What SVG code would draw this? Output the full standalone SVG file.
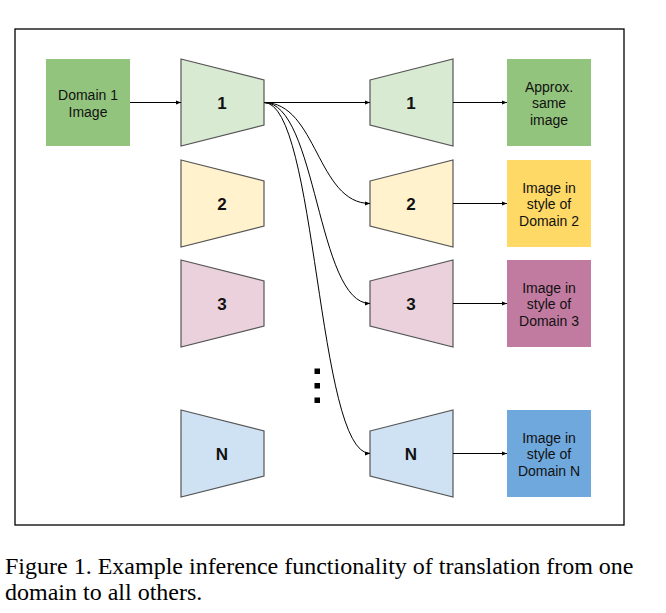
<svg xmlns="http://www.w3.org/2000/svg" width="666" height="613" viewBox="0 0 666 613">
<defs>
<style>
.box{stroke:none}
.trap{stroke:#555;stroke-width:1.2}
.lbl{font-family:"Liberation Sans",Arial,sans-serif;font-size:14px;fill:#111;text-anchor:middle}
.num{font-family:"Liberation Sans",Arial,sans-serif;font-size:17px;font-weight:bold;fill:#111;text-anchor:middle}
.cap{font-family:"Liberation Serif","Times New Roman",serif;font-size:24px;fill:#000}
.edge{fill:none;stroke:#000;stroke-width:1}
</style>
<marker id="ah" viewBox="0 0 10 10" refX="10" refY="5" markerWidth="5" markerHeight="5" orient="auto" markerUnits="userSpaceOnUse">
<path d="M0,1 L10,5 L0,9 z" fill="#000"/>
</marker>
</defs>
<rect width="666" height="613" fill="#fff"/>
<rect id="frame" x="15" y="29" width="609" height="496" fill="none" stroke="#000" stroke-width="1.3"/>

<g id="domain1">
<rect class="box" x="46" y="59" width="84" height="87" fill="#93c47d"/>
<text class="lbl" x="88" y="100">Domain 1</text>
<text class="lbl" x="88" y="117">Image</text>
</g>

<g id="enc1">
<polygon class="trap" points="181,59 264,80 264,125 181,146" fill="#d9ead3"/>
<text class="num" x="222" y="109">1</text>
</g>
<g id="enc2">
<polygon class="trap" points="181,160 264,181 264,226 181,247" fill="#fff2cc"/>
<text class="num" x="222" y="210">2</text>
</g>
<g id="enc3">
<polygon class="trap" points="181,260 264,281 264,326 181,347" fill="#ead1dc"/>
<text class="num" x="222" y="310">3</text>
</g>
<g id="encN">
<polygon class="trap" points="181,410 264,431 264,476 181,497" fill="#cfe2f3"/>
<text class="num" x="222" y="460">N</text>
</g>

<g id="dec1">
<polygon class="trap" points="370,80 453,59 453,146 370,125" fill="#d9ead3"/>
<text class="num" x="411" y="109">1</text>
</g>
<g id="dec2">
<polygon class="trap" points="370,181 453,160 453,247 370,226" fill="#fff2cc"/>
<text class="num" x="411" y="210">2</text>
</g>
<g id="dec3">
<polygon class="trap" points="370,281 453,260 453,347 370,326" fill="#ead1dc"/>
<text class="num" x="411" y="310">3</text>
</g>
<g id="decN">
<polygon class="trap" points="370,431 453,410 453,497 370,476" fill="#cfe2f3"/>
<text class="num" x="411" y="460">N</text>
</g>

<g id="out1">
<rect class="box" x="507" y="59" width="84" height="87" fill="#93c47d"/>
<text class="lbl" x="549" y="92">Approx.</text>
<text class="lbl" x="549" y="108">same</text>
<text class="lbl" x="549" y="125">image</text>
</g>
<g id="out2">
<rect class="box" x="507" y="160" width="84" height="87" fill="#ffd966"/>
<text class="lbl" x="549" y="193">Image in</text>
<text class="lbl" x="549" y="209">style of</text>
<text class="lbl" x="549" y="226">Domain 2</text>
</g>
<g id="out3">
<rect class="box" x="507" y="260" width="84" height="87" fill="#c27ba0"/>
<text class="lbl" x="549" y="293">Image in</text>
<text class="lbl" x="549" y="309">style of</text>
<text class="lbl" x="549" y="326">Domain 3</text>
</g>
<g id="outN">
<rect class="box" x="507" y="410" width="84" height="87" fill="#6fa8dc"/>
<text class="lbl" x="549" y="443">Image in</text>
<text class="lbl" x="549" y="459">style of</text>
<text class="lbl" x="549" y="476">Domain N</text>
</g>

<g id="dots" fill="#000">
<rect x="314.5" y="368.5" width="5.5" height="5.5"/>
<rect x="314.5" y="383" width="5.5" height="5.5"/>
<rect x="314.5" y="397.5" width="5.5" height="5.5"/>
</g>

<g id="connectors">
<path class="edge" d="M130,102.5 H181" marker-end="url(#ah)"/>
<path class="edge" d="M264,102.5 H370" marker-end="url(#ah)"/>
<path class="edge" d="M264,102.5 C317,102.5 317,203.5 370,203.5" marker-end="url(#ah)"/>
<path class="edge" d="M264,102.5 C317,102.5 317,303.5 370,303.5" marker-end="url(#ah)"/>
<path class="edge" d="M264,102.5 C317,102.5 317,453.5 370,453.5" marker-end="url(#ah)"/>
<path class="edge" d="M453,102.5 H507" marker-end="url(#ah)"/>
<path class="edge" d="M453,203.5 H507" marker-end="url(#ah)"/>
<path class="edge" d="M453,303.5 H507" marker-end="url(#ah)"/>
<path class="edge" d="M453,453.5 H507" marker-end="url(#ah)"/>
</g>

<text class="cap" x="5" y="574">Figure 1. Example inference functionality of translation from one</text>
<text class="cap" x="5" y="600">domain to all others.</text>
</svg>
